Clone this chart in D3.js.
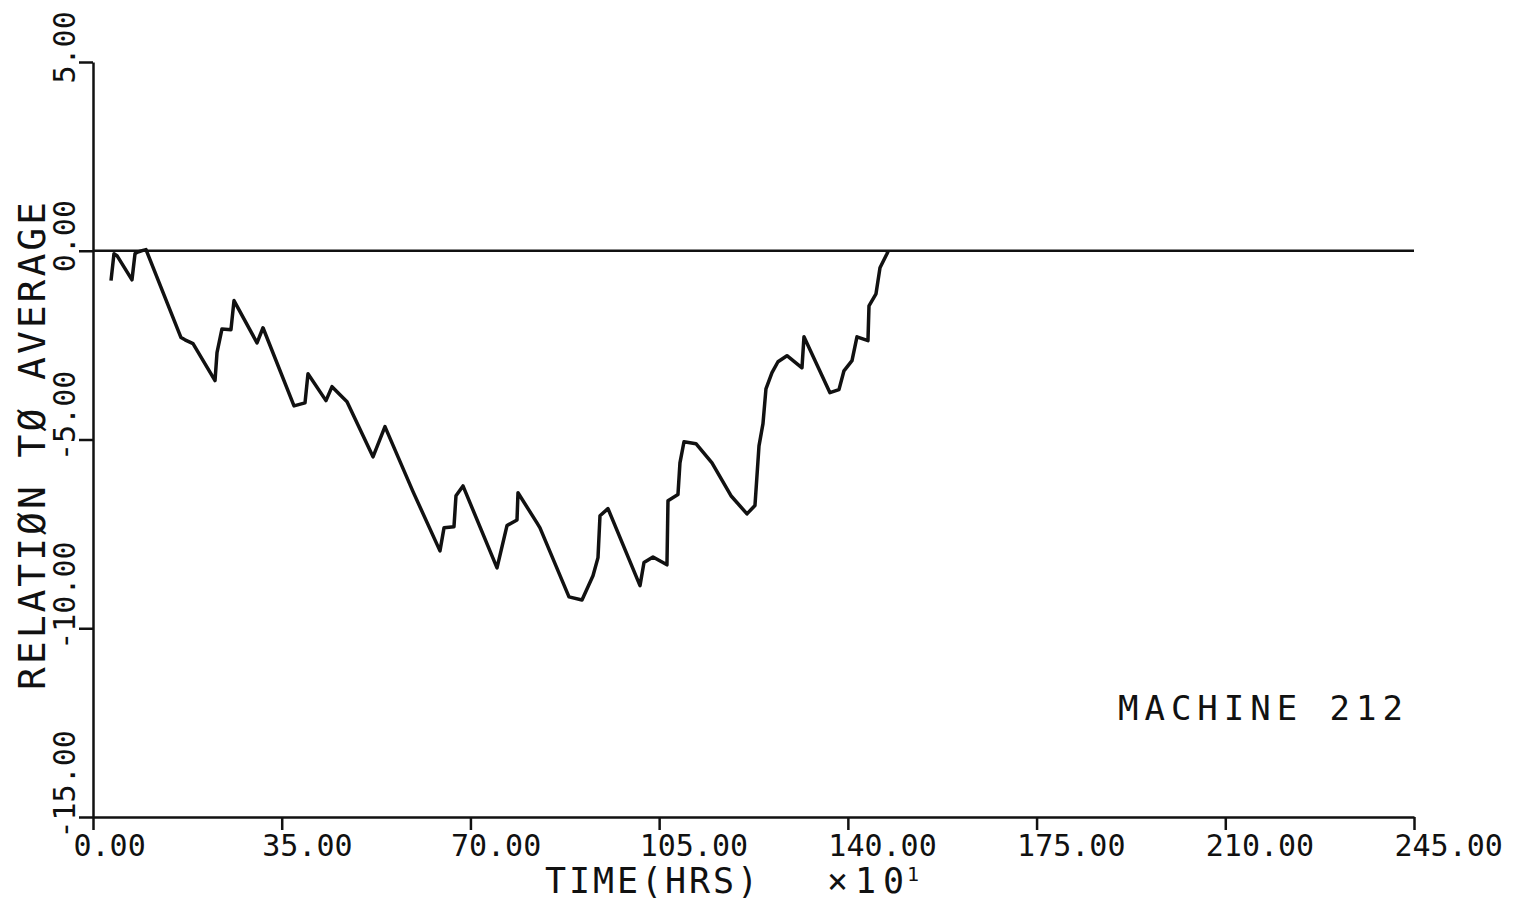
<!DOCTYPE html>
<html>
<head>
<meta charset="utf-8">
<script src="https://cdn.jsdelivr.net/npm/d3@7"></script>
<style>
  body { margin: 0; background: #fff; }
  svg { display: block; }
  text { font-family: "DejaVu Sans Mono", monospace; fill: #111; }
</style>
</head>
<body>
<svg width="1521" height="905"></svg>
<script>
// time in units of 10 hrs
const time = [3.34, 3.89, 4.45, 7.23, 7.79, 8.16, 9.27, 9.83, 16.32, 17.06, 18.55, 22.63, 23.0, 23.92, 25.59, 26.15,
  30.42, 31.53, 37.28, 39.32, 39.87, 43.21, 44.33, 45.44, 47.11, 51.93, 54.15, 59.35, 64.35, 65.1, 66.95, 67.32,
  68.62, 74.93, 76.78, 78.64, 78.82, 82.34, 82.9, 88.28, 90.69, 92.73, 93.66, 94.03, 95.51, 101.45, 102.19, 103.86,
  106.45, 106.64, 108.49, 108.86, 109.61, 111.83, 114.8, 118.32, 121.29, 122.77, 123.52, 124.26, 124.81, 125.93,
  127.04, 128.71, 131.49, 131.86, 136.68, 138.35, 139.28, 140.77, 141.69, 143.73, 143.92, 145.22, 145.96, 147.26, 147.5];
const relation = [-0.79, -0.08, -0.13, -0.77, -0.08, -0.04, 0.01, 0.03, -2.3, -2.36, -2.46, -3.44, -2.7, -2.07, -2.09, -1.32,
  -2.44, -2.04, -4.11, -4.03, -3.26, -3.97, -3.6, -3.76, -4.0, -5.46, -4.66, -6.38, -7.95, -7.34, -7.31, -6.49,
  -6.23, -8.4, -7.28, -7.13, -6.41, -7.21, -7.34, -9.17, -9.25, -8.61, -8.13, -7.02, -6.83, -8.87, -8.26, -8.11,
  -8.32, -6.62, -6.46, -5.62, -5.06, -5.11, -5.62, -6.49, -6.97, -6.75, -5.17, -4.58, -3.66, -3.23,
  -2.94, -2.78, -3.1, -2.28, -3.76, -3.68, -3.18, -2.91, -2.28, -2.38, -1.46, -1.14, -0.45, -0.08, 0.0];

const xTicks = [0, 35, 70, 105, 140, 175, 210, 245];
const yTicks = [-15, -10, -5, 0, 5];

const svg = d3.select("svg");

const x = d3.scaleLinear().domain([0, 245]).range([93, 1414]);
const y = d3.scaleLinear().domain([-15, 5]).range([817, 62]);

// x axis
const gx = svg.append("g")
  .attr("transform", `translate(0,${y(-15)})`)
  .call(d3.axisBottom(x).tickValues(xTicks).tickSize(13).tickSizeOuter(0));

gx.selectAll("text")
  .attr("x", -20)
  .attr("y", 39)
  .attr("dy", null)
  .attr("text-anchor", "start")
  .style("font-family", '"DejaVu Sans Mono", monospace')
  .style("font-size", "30px")
  .text(d => d.toFixed(2));

// y axis
const gy = svg.append("g")
  .attr("transform", `translate(${x(0)},0)`)
  .call(d3.axisLeft(y).tickValues(yTicks).tickSize(14).tickSizeOuter(0));

gy.selectAll("text")
  .attr("x", 0)
  .attr("y", 0)
  .attr("dy", null)
  .attr("text-anchor", "start")
  .attr("transform", "translate(-18,21) rotate(-90)")
  .style("font-family", '"DejaVu Sans Mono", monospace')
  .style("font-size", "30px")
  .text(d => d.toFixed(2));

svg.selectAll(".domain, .tick line")
  .attr("stroke", "#111")
  .attr("stroke-width", 2.5);

// zero reference line
svg.append("line")
  .attr("x1", x(0)).attr("x2", x(245))
  .attr("y1", y(0)).attr("y2", y(0))
  .attr("stroke", "#111")
  .attr("stroke-width", 2.5);

// data line
const pts = time.map((t, i) => [t, relation[i]]);
svg.append("path")
  .datum(pts)
  .attr("fill", "none")
  .attr("stroke", "#111")
  .attr("stroke-width", 3.5)
  .attr("stroke-linejoin", "round")
  .attr("d", d3.line().x(d => x(d[0])).y(d => y(d[1])));

// axis titles
svg.append("text")
  .attr("x", 545).attr("y", 893)
  .attr("textLength", 213)
  .attr("lengthAdjust", "spacing")
  .style("font-size", "35px")
  .text("TIME(HRS)");

svg.append("text")
  .attr("x", 827).attr("y", 893)
  .attr("textLength", 77)
  .attr("lengthAdjust", "spacing")
  .style("font-size", "35px")
  .text("×10");

svg.append("text")
  .attr("x", 907).attr("y", 881)
  .style("font-size", "20px")
  .text("1");

svg.append("text")
  .attr("transform", "translate(45,446) rotate(-90)")
  .attr("text-anchor", "middle")
  .attr("textLength", 488)
  .attr("lengthAdjust", "spacing")
  .style("font-size", "38px")
  .text("RELATIØN TØ AVERAGE");

svg.append("text")
  .attr("x", 1118).attr("y", 720)
  .attr("textLength", 285)
  .attr("lengthAdjust", "spacing")
  .style("font-size", "34px")
  .text("MACHINE 212");
</script>
</body>
</html>
